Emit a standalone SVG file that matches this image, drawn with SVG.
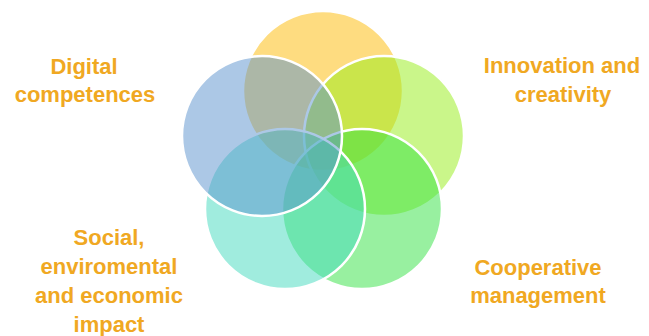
<svg xmlns="http://www.w3.org/2000/svg" width="649" height="336" viewBox="0 0 649 336">
<style>
.c{stroke:#fff;stroke-width:2.5;fill-opacity:0.5}
.t{font-family:"Liberation Sans",Arial,sans-serif;font-weight:bold;font-size:22px;fill:#F0A822;text-anchor:middle}
</style>
<rect width="649" height="336" fill="#fff"/>
<g id="circle-yellow"><circle class="c" cx="323" cy="91" r="80" fill="#FDB901"/></g>
<g id="circle-lightgreen"><circle class="c" cx="384" cy="136" r="80" fill="#95ED15"/></g>
<g id="circle-green"><circle class="c" cx="362" cy="209" r="80" fill="#31E141"/></g>
<g id="circle-teal"><circle class="c" cx="285" cy="209" r="80" fill="#41D9BD"/></g>
<g id="circle-blue"><circle class="c" cx="262" cy="136" r="80" fill="#5991CD"/></g>
<g id="label-digital"><text class="t" x="84" y="74">Digital</text><text class="t" x="85" y="102">competences</text></g>
<g id="label-innovation"><text class="t" x="562" y="73">Innovation and</text><text class="t" x="563" y="102">creativity</text></g>
<g id="label-social"><text class="t" x="109" y="245">Social,</text><text class="t" x="109" y="274">enviromental</text><text class="t" x="109" y="303">and economic</text><text class="t" x="109" y="332">impact</text></g>
<g id="label-cooperative"><text class="t" x="538" y="275">Cooperative</text><text class="t" x="538" y="303">management</text></g>
</svg>
